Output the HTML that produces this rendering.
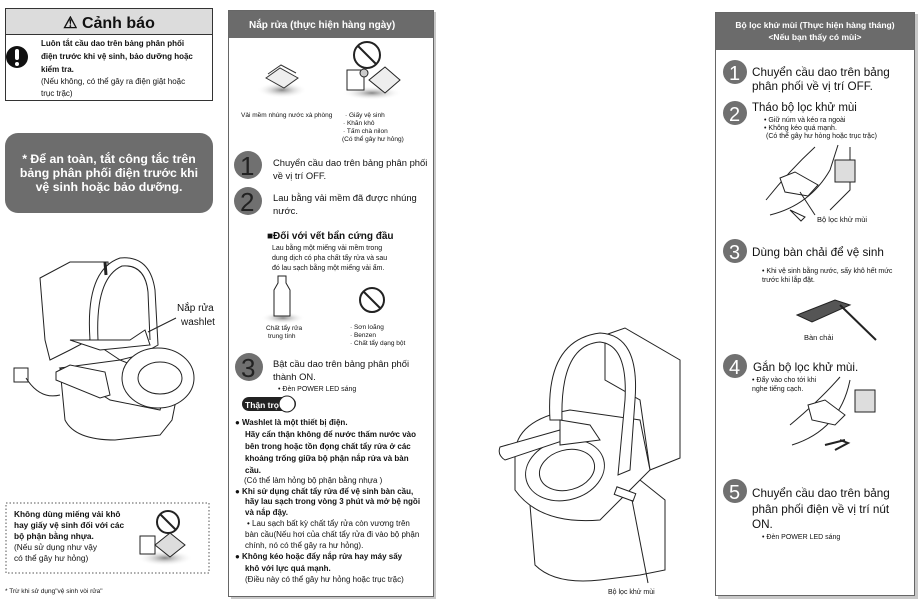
<!DOCTYPE html>
<html><head><meta charset="utf-8">
<style>
html,body{margin:0;padding:0;background:#fff;}
svg{display:block;}
text{font-family:"Liberation Sans",sans-serif;fill:#111;}
.b{font-weight:bold;}
.w{fill:#fff;}
.n{fill:#222;font-size:26px;}
</style></head><body>
<svg width="923" height="601" viewBox="0 0 923 601" xmlns="http://www.w3.org/2000/svg">
<defs>
<radialGradient id="sh" cx="50%" cy="50%" r="50%"><stop offset="0" stop-color="#888"/><stop offset="1" stop-color="#fff" stop-opacity="0"/></radialGradient>
</defs>

<!-- LEFT: warning box -->
<rect x="5.5" y="8.5" width="207" height="92" fill="#fff" stroke="#333"/>
<rect x="6" y="9" width="206" height="25" fill="#dcdcdc"/>
<line x1="5.5" y1="34.5" x2="212.5" y2="34.5" stroke="#333"/>
<text x="109" y="28" font-size="16" class="b" text-anchor="middle">⚠ Cảnh báo</text>
<circle cx="17" cy="57" r="11" fill="#111"/>
<rect x="15" y="49" width="4" height="11" rx="2" fill="#fff"/>
<circle cx="17" cy="64" r="2" fill="#fff"/>
<g font-size="8">
<text x="41" y="46" class="b">Luôn tắt cầu dao trên bảng phân phối</text>
<text x="41" y="59" class="b">điện trước khi vệ sinh, bảo dưỡng hoặc</text>
<text x="41" y="72" class="b">kiểm tra.</text>
<text x="41" y="84">(Nếu không, có thể gây ra điện giật hoặc</text>
<text x="41" y="96">trục trặc)</text>
</g>

<!-- gray rounded box -->
<rect x="5" y="133" width="208" height="80" rx="13" fill="#6d6d6d"/>
<g font-size="12.3" class="b" text-anchor="middle">
<text x="109" y="163" class="w b">* Để an toàn, tắt công tắc trên</text>
<text x="109" y="177" class="w b">bảng phân phối điện trước khi</text>
<text x="109" y="191" class="w b">vệ sinh hoặc bảo dưỡng.</text>
</g>

<!-- left toilet -->
<g fill="#fff" stroke="#222" stroke-width="1">
<path d="M40 278 L70 262 L108 262 L108 330 L70 350 L50 360 L45 340 Z"/>
<path d="M60 368 L65 420 Q75 440 115 440 L160 435 L172 420 L180 380 L120 365 Z"/>
<path d="M60 368 L120 360 L170 380 L160 410 L110 400 Z"/>
<path d="M56 372 L70 365 L105 372 L110 395 L100 398 L56 380 Z"/>
<path d="M90 340 Q85 270 120 258 Q150 255 155 290 L158 345 L140 355 L120 360 Z"/>
<path d="M98 340 Q95 278 122 266 Q145 264 148 292 L150 340"/>
<ellipse cx="158" cy="378" rx="36" ry="30"/>
<ellipse cx="160" cy="378" rx="22" ry="16"/>
<path d="M70 340 L130 340 L145 330 L150 345 L100 350 Z"/>
<rect x="14" y="368" width="14" height="14"/>
</g>
<path d="M26 378 Q40 400 60 395" fill="none" stroke="#222"/>
<path d="M105 262 L106 275" stroke="#222" stroke-width="3"/>
<line x1="148" y1="332" x2="176" y2="318" stroke="#222"/>
<text x="177" y="311" font-size="10">Nắp rửa</text>
<text x="181" y="325" font-size="10">washlet</text>

<!-- dotted box -->
<rect x="6" y="503" width="203" height="70" fill="none" stroke="#555" stroke-dasharray="1.5 2"/>
<g font-size="8.3">
<text x="14" y="517" class="b">Không dùng miếng vải khô</text>
<text x="14" y="528" class="b">hay giấy vệ sinh đối với các</text>
<text x="14" y="539" class="b">bộ phận bằng nhựa.</text>
<text x="14" y="550">(Nếu sử dụng như vậy</text>
<text x="14" y="561">có thể gây hư hỏng)</text>
</g>
<ellipse cx="165" cy="558" rx="28" ry="8" fill="url(#sh)"/>
<circle cx="168" cy="522" r="11" fill="none" stroke="#222" stroke-width="2"/>
<line x1="160" y1="514" x2="176" y2="530" stroke="#222" stroke-width="2"/>
<rect x="140" y="536" width="15" height="18" fill="#fff" stroke="#222"/>
<path d="M155 545 L170 533 L185 545 L170 557 Z" fill="#ddd" stroke="#222"/>
<text x="5" y="593" font-size="6.5">* Trừ khi sử dụng"vệ sinh vòi rửa"</text>

<!-- MIDDLE panel -->
<rect x="231" y="12" width="205" height="587" fill="#c8c8c8"/>
<rect x="228.5" y="10.5" width="205" height="586" fill="#fff" stroke="#666"/>
<rect x="229" y="11" width="204" height="27" fill="#6b6b6b"/>
<text x="249" y="28" font-size="10" class="w b">Nắp rửa (thực hiện hàng ngày)</text>
<ellipse cx="282" cy="90" rx="25" ry="8" fill="url(#sh)"/>
<path d="M266 78 L280 68 L298 78 L284 88 Z" fill="#eee" stroke="#333"/>
<path d="M268 74 L281 65 L296 73" fill="none" stroke="#333"/>
<text x="241" y="117" font-size="6.5">Vải mềm nhúng nước xà phòng</text>
<circle cx="367" cy="55" r="13" fill="none" stroke="#222" stroke-width="2"/>
<line x1="358" y1="46" x2="376" y2="64" stroke="#222" stroke-width="2"/>
<ellipse cx="372" cy="93" rx="30" ry="7" fill="url(#sh)"/>
<rect x="347" y="70" width="17" height="20" fill="#fff" stroke="#222"/>
<ellipse cx="364" cy="73" rx="4" ry="4" fill="#ccc" stroke="#222"/>
<path d="M369 80 L385 67 L400 80 L385 93 Z" fill="#eee" stroke="#222"/>
<g font-size="6.5">
<text x="345" y="117">· Giấy vệ sinh</text>
<text x="343" y="125">· Khăn khô</text>
<text x="343" y="133">· Tấm chà nilon</text>
<text x="342" y="141">(Có thể gây hư hỏng)</text>
</g>
<circle cx="248" cy="165" r="14" fill="#707070"/><text x="240" y="175" class="n">1</text>
<text x="273" y="166" font-size="9.4">Chuyển cầu dao trên bảng phân phối</text>
<text x="273" y="179" font-size="9.4">về vị trí OFF.</text>
<circle cx="248" cy="201" r="14" fill="#707070"/><text x="240" y="211" class="n">2</text>
<text x="273" y="201" font-size="9.4">Lau bằng vải mềm đã được nhúng</text>
<text x="273" y="214" font-size="9.4">nước.</text>
<text x="267" y="239" font-size="10" class="b">■Đối với vết bẩn cứng đầu</text>
<g font-size="7">
<text x="272" y="250">Lau bằng một miếng vải mềm trong</text>
<text x="272" y="260">dung dịch có pha chất tẩy rửa và sau</text>
<text x="272" y="270">đó lau sạch bằng một miếng vải ẩm.</text>
</g>
<ellipse cx="283" cy="318" rx="22" ry="6" fill="url(#sh)"/>
<path d="M278 276 L286 276 L286 283 L290 290 L290 316 L274 316 L274 290 L278 283 Z" fill="#fff" stroke="#222"/>
<circle cx="372" cy="300" r="12" fill="none" stroke="#222" stroke-width="2"/>
<line x1="364" y1="292" x2="380" y2="308" stroke="#222" stroke-width="2"/>
<g font-size="6.5">
<text x="266" y="330">Chất tẩy rửa</text>
<text x="268" y="338">trung tính</text>
<text x="350" y="329">· Sơn loãng</text>
<text x="350" y="337">· Benzen</text>
<text x="350" y="345">· Chất tẩy dạng bột</text>
</g>
<circle cx="249" cy="367" r="14" fill="#707070"/><text x="241" y="377" class="n">3</text>
<text x="273" y="367" font-size="9.4">Bật cầu dao trên bảng phân phối</text>
<text x="273" y="380" font-size="9.4">thành ON.</text>
<text x="278" y="391" font-size="7">• Đèn POWER LED sáng</text>
<rect x="242" y="397" width="54" height="14" rx="7" fill="#222"/>
<circle cx="287" cy="404" r="8" fill="#fff" stroke="#222"/>
<text x="245" y="408" font-size="8.5" class="w b">Thận trọ</text>
<g font-size="8">
<text x="235" y="425" class="b">● Washlet là một thiết bị điện.</text>
<text x="245" y="437" class="b">Hãy cẩn thận không để nước thấm nước vào</text>
<text x="245" y="449" class="b">bên trong hoặc tồn đọng chất tẩy rửa ở các</text>
<text x="245" y="461" class="b">khoảng trống giữa bộ phận nắp rửa và bàn</text>
<text x="245" y="473" class="b">cầu.</text>
<text x="244" y="483">(Có thể làm hỏng bộ phận bằng nhựa )</text>
<text x="235" y="494" class="b">● Khi sử dụng chất tẩy rửa để vệ sinh bàn cầu,</text>
<text x="245" y="504" class="b">hãy lau sạch trong vòng 3 phút và mở bệ ngồi</text>
<text x="245" y="515" class="b">và nắp đậy.</text>
<text x="247" y="526">• Lau sạch bất kỳ chất tẩy rửa còn vương trên</text>
<text x="245" y="537">bàn cầu(Nếu hơi của chất tẩy rửa đi vào bộ phận</text>
<text x="245" y="548">chính, nó có thể gây ra hư hỏng).</text>
<text x="235" y="559" class="b">● Không kéo hoặc đẩy nắp rửa hay máy sấy</text>
<text x="245" y="571" class="b">khô với lực quá mạnh.</text>
<text x="245" y="582">(Điều này có thể gây hư hỏng hoặc trục trặc)</text>
</g>

<!-- center big toilet -->
<g fill="#fff" stroke="#222" stroke-width="1">
<path d="M605 335 L625 328 L680 360 L680 458 L650 470 L640 400 L605 380 Z"/>
<path d="M530 505 L535 565 Q555 585 600 580 L640 575 L665 570 L665 500 L640 480 Z"/>
<path d="M515 455 Q515 420 570 410 L640 420 L650 470 L600 520 Q540 525 515 490 Z"/>
<ellipse cx="565" cy="470" rx="40" ry="30" transform="rotate(-15 565 470)"/>
<ellipse cx="567" cy="470" rx="28" ry="20" transform="rotate(-15 567 470)"/>
<path d="M550 420 Q545 340 600 333 Q640 335 635 400 L630 470 L618 475 L625 400 Q628 345 600 342 Q560 345 562 420 Z"/>
<path d="M500 447 L560 430 L565 440 L505 460 Q497 455 500 447 Z"/>
<path d="M560 420 L590 425 L600 440 L560 445 Z"/>
<rect x="615" y="490" width="20" height="8" transform="rotate(20 625 494)"/>
</g>
<line x1="632" y1="500" x2="648" y2="583" stroke="#222"/>
<text x="608" y="594" font-size="7">Bộ lọc khử mùi</text>

<!-- RIGHT panel -->
<rect x="718" y="14" width="200" height="585" fill="#c8c8c8"/>
<rect x="715.5" y="12.5" width="199" height="583" fill="#fff" stroke="#666"/>
<rect x="716" y="13" width="198" height="37" fill="#6b6b6b"/>
<text x="815" y="28" font-size="8.5" class="w b" text-anchor="middle">Bộ lọc khử mùi (Thực hiện hàng tháng)</text>
<text x="815" y="40" font-size="8.5" class="w b" text-anchor="middle">&lt;Nếu bạn thấy có mùi&gt;</text>
<circle cx="735" cy="72" r="12" fill="#707070"/><text x="729" y="80" font-size="20" class="w">1</text>
<text x="752" y="76" font-size="11.7">Chuyển cầu dao trên bảng</text>
<text x="752" y="90" font-size="11.7">phân phối về vị trí OFF.</text>
<circle cx="735" cy="113" r="12" fill="#707070"/><text x="729" y="121" font-size="20" class="w">2</text>
<text x="752" y="111" font-size="11.5">Tháo bộ lọc khử mùi</text>
<g font-size="7">
<text x="764" y="122">• Giữ núm và kéo ra ngoài</text>
<text x="764" y="130">• Không kéo quá mạnh.</text>
<text x="766" y="138">(Có thể gây hư hỏng hoặc trục trặc)</text>
</g>
<g fill="none" stroke="#222">
<path d="M766 200 Q790 170 815 147"/>
<path d="M770 215 Q810 205 830 170 L838 145"/>
<path d="M830 210 L850 190 L850 147"/>
<path d="M780 178 L795 172 L818 185 L808 196 L785 192 Z" fill="#fff"/>
<rect x="835" y="160" width="20" height="22" fill="#ddd"/>
<path d="M790 210 L805 217 L801 221 Z" fill="#fff"/>
<line x1="800" y1="192" x2="815" y2="215"/>
</g>
<text x="817" y="222" font-size="7.5">Bộ lọc khử mùi</text>
<circle cx="735" cy="251" r="12" fill="#707070"/><text x="729" y="259" font-size="20" class="w">3</text>
<text x="752" y="256" font-size="11.7">Dùng bàn chải để vệ sinh</text>
<text x="762" y="273" font-size="7">• Khi vệ sinh bằng nước, sấy khô hết mức</text>
<text x="762" y="282" font-size="7">trước khi lắp đặt.</text>
<path d="M797 315 L835 300 L850 305 L812 322 Z" fill="#555" stroke="#222"/>
<line x1="840" y1="305" x2="876" y2="340" stroke="#222" stroke-width="2"/>
<text x="804" y="340" font-size="7.5">Bàn chải</text>
<circle cx="735" cy="366" r="12" fill="#707070"/><text x="729" y="374" font-size="20" class="w">4</text>
<text x="753" y="371" font-size="11.7">Gắn bộ lọc khử mùi.</text>
<text x="752" y="382" font-size="7">• Đẩy vào cho tới khi</text>
<text x="752" y="391" font-size="7">nghe tiếng cạch.</text>
<g fill="none" stroke="#222">
<path d="M790 425 Q820 400 840 377"/>
<path d="M792 445 Q840 430 850 380"/>
<path d="M808 405 L825 400 L845 415 L835 425 L812 420 Z" fill="#fff"/>
<rect x="855" y="390" width="20" height="22" fill="#ddd"/>
<path d="M835 450 L848 443 L840 440" stroke-width="2"/>
<line x1="825" y1="445" x2="845" y2="440" stroke-width="2"/>
</g>
<circle cx="735" cy="491" r="12" fill="#707070"/><text x="729" y="499" font-size="20" class="w">5</text>
<text x="752" y="497" font-size="11.7">Chuyển cầu dao trên bảng</text>
<text x="752" y="513" font-size="11.7">phân phối điện về vị trí nút</text>
<text x="752" y="528" font-size="11.7">ON.</text>
<text x="762" y="539" font-size="7">• Đèn POWER LED sáng</text>
</svg>
</body></html>
